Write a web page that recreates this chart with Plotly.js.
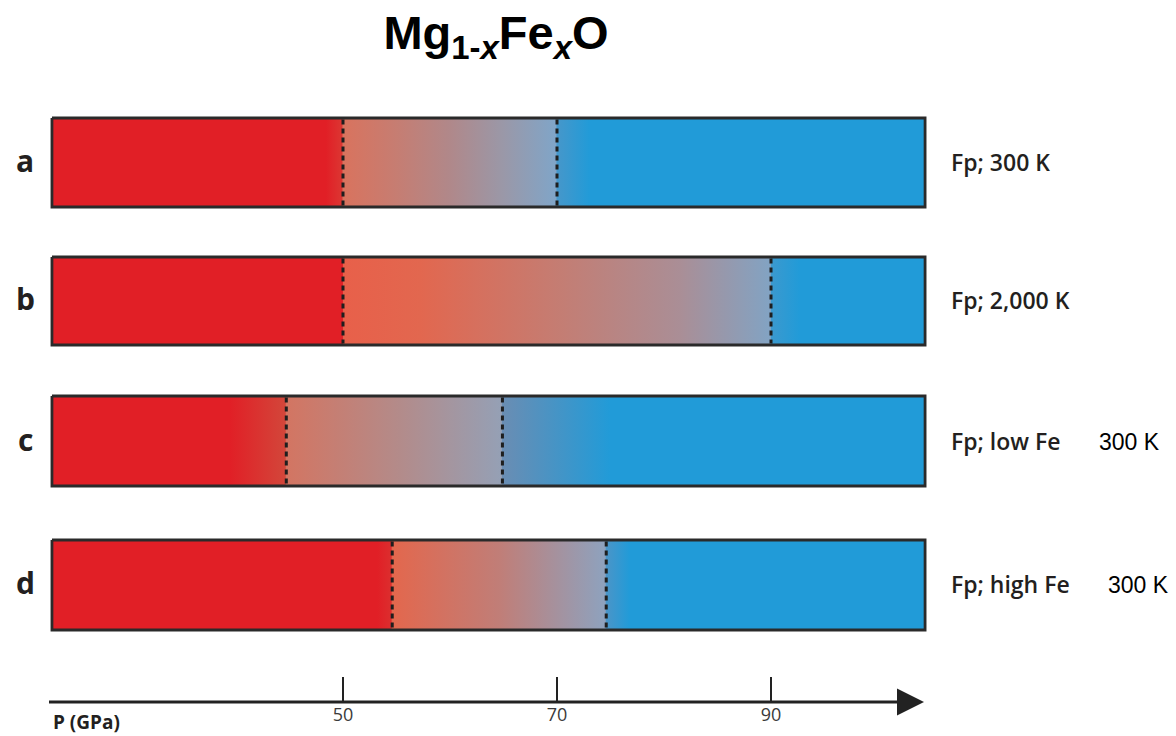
<!DOCTYPE html>
<html>
<head>
<meta charset="utf-8">
<script src="https://cdn.plot.ly/plotly-3.0.1.min.js"></script>
<style>html,body{margin:0;padding:0;background:#fff;}#chart{width:1176px;height:736px;}</style>
</head>
<body>
<div id="chart"></div>
<script>
// ---- data ----
const rowIds = ['a', 'b', 'c', 'd'];
const rowLabels = ['Fp; 300 K', 'Fp; 2,000 K', 'Fp; low Fe', 'Fp; high Fe'];
const extraLabels = ['', '', '300 K', '300 K'];
const pressureMin = 22.8;   // GPa, left end of bars
const pressureMax = 104.4;  // GPa, right end of bars
const transitionStart = [50, 50, 44.7, 54.6];
const transitionEnd = [70, 90, 64.9, 74.6];
const tickValues = [50, 70, 90];
const axisLabel = 'P (GPa)';

// colour stops along pressure (GPa) for each bar
const gradA_P = [22.8, 48.4, 49.9, 50.0, 55.0, 60.0, 65.0, 69.9, 70.0, 73.1, 104.4];
const gradA_C = ['#E11F26', '#E11F26', '#DC3632', '#D9735E', '#C67D72', '#B0888A', '#9A98A8', '#80A5C8', '#4697CA', '#219BD8', '#219BD8'];
const gradB_P = [22.8, 49.95, 50.0, 57.2, 70.3, 81.5, 89.95, 90.0, 92.7, 104.4];
const gradB_C = ['#E11F26', '#E11F26', '#E8604A', '#E2674F', '#C47D73', '#AA8E96', '#82A3C3', '#3B99CE', '#219BD8', '#219BD8'];
const gradC_P = [22.8, 39.4, 44.6, 44.7, 55.3, 64.8, 64.9, 75.0, 104.4];
const gradC_C = ['#E11F26', '#E11F26', '#D3463A', '#D37562', '#B38B8A', '#95A0B5', '#6A8DB3', '#219BD8', '#219BD8'];
const gradD_P = [22.8, 53.2, 54.5, 54.6, 64.7, 74.5, 74.6, 76.8, 104.4];
const gradD_C = ['#E11F26', '#E11F26', '#DC2E2E', '#E3674D', '#C07E78', '#8EA2BE', '#4A95C8', '#219BD8', '#219BD8'];

const gradP = [gradA_P, gradB_P, gradC_P, gradD_P];
const gradC = [gradA_C, gradB_C, gradC_C, gradD_C];

// ---- layout helpers (pixel-like y coordinates) ----
const bandTop = [118, 257, 396, 540];
const bandBot = [207, 345, 486, 630];
const labelY = [162, 300, 441, 584];
const W = 1176, H = 736;
const pxPerGPa = 10.7, px50 = 343;
const xRange = [50 - px50 / pxPerGPa, 50 + (W - px50) / pxPerGPa];
const axisY = 702;

const traces = [];
for (let i = 0; i < rowIds.length; i++) {
  const span = pressureMax - pressureMin;
  const cs = gradP[i].map((p, k) => [Math.min(1, Math.max(0, (p - pressureMin) / span)), gradC[i][k]]);
  cs[0][0] = 0; cs[cs.length - 1][0] = 1;
  traces.push({
    type: 'scatter', mode: 'lines', hoverinfo: 'skip', showlegend: false,
    x: [pressureMin, pressureMax, pressureMax, pressureMin, pressureMin],
    y: [bandTop[i], bandTop[i], bandBot[i], bandBot[i], bandTop[i]],
    fill: 'toself',
    fillcolor: '#888',
    fillgradient: { type: 'horizontal', colorscale: cs, start: pressureMin, stop: pressureMax },
    line: { color: '#2a2a2a', width: 2.8 }
  });
  [transitionStart[i], transitionEnd[i]].forEach(p => {
    traces.push({
      type: 'scatter', mode: 'lines', hoverinfo: 'skip', showlegend: false,
      x: [p, p], y: [bandTop[i] + 1.5, bandBot[i] - 1.5],
      line: { color: '#1e1e1e', width: 3, dash: '5px,4px' }
    });
  });
}

const annotations = [];
const labFont = { family: 'Open Sans, sans-serif', size: 30, color: '#231F20', weight: 700 };
for (let i = 0; i < rowIds.length; i++) {
  annotations.push({ text: rowIds[i], xref: 'paper', yref: 'y', x: 25 / W, y: labelY[i] - 2,
    xanchor: 'center', yanchor: 'middle', showarrow: false, font: labFont });
  annotations.push({ text: rowLabels[i], xref: 'paper', yref: 'y', x: 949 / W, y: labelY[i],
    xanchor: 'left', yanchor: 'middle', showarrow: false,
    font: { family: 'Open Sans, sans-serif', size: 23, color: '#231F20', weight: 600 } });
  if (extraLabels[i]) {
    annotations.push({ text: extraLabels[i], xref: 'paper', yref: 'y', x: (i === 2 ? 1097 : 1106) / W, y: labelY[i] + 1,
      xanchor: 'left', yanchor: 'middle', showarrow: false,
      font: { family: 'Liberation Sans, Arial, sans-serif', size: 23, color: '#000' } });
  }
}
// axis arrow
annotations.push({ text: ' ', xref: 'x', yref: 'y', axref: 'x', ayref: 'y',
  x: 50 + (924 - px50) / pxPerGPa, y: axisY, ax: 50 + (46 - px50) / pxPerGPa, ay: axisY,
  showarrow: true, arrowhead: 2, arrowsize: 1.8, arrowwidth: 3, arrowcolor: '#222', standoff: 0 });
annotations.push({ text: '<b>' + axisLabel + '</b>', xref: 'paper', yref: 'paper', x: 51 / W, y: 0,
  yshift: -20, xanchor: 'left', yanchor: 'middle', showarrow: false,
  font: { family: 'Open Sans, sans-serif', size: 19, color: '#231F20' } });

const layout = {
  width: W, height: H,
  margin: { l: 0, r: 0, t: 0, b: H - axisY, pad: 0 },
  paper_bgcolor: '#fff', plot_bgcolor: '#fff',
  showlegend: false,
  title: { text: '<b>Mg<sub>1-<i>x</i></sub>Fe<sub><i>x</i></sub>O</b>',
    font: { family: 'Liberation Sans, Arial, sans-serif', size: 47, color: '#000' },
    x: 496 / W, xanchor: 'center', y: 1 - 33 / H, yanchor: 'middle', yref: 'container' },
  xaxis: { range: xRange, showgrid: false, zeroline: false, showline: false,
    tickmode: 'array', tickvals: tickValues, ticktext: tickValues.map(String),
    ticks: 'inside', ticklen: 25, tickwidth: 1.8, tickcolor: '#222',
    tickfont: { family: 'Open Sans, sans-serif', size: 18, color: '#3a3a3a' }, fixedrange: true },
  yaxis: { range: [axisY, 0], showgrid: false, zeroline: false, showline: false,
    showticklabels: false, ticks: '', fixedrange: true },
  annotations: annotations
};

Plotly.newPlot('chart', traces, layout, { displayModeBar: false, staticPlot: true });
</script>
</body>
</html>
